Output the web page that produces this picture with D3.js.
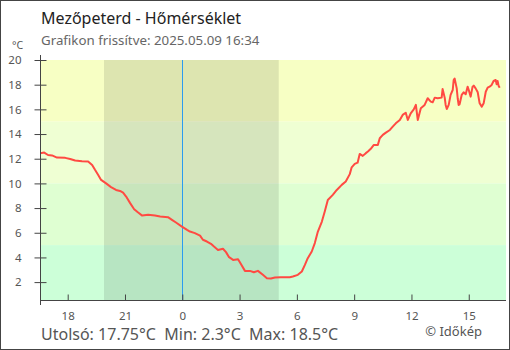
<!DOCTYPE html>
<html>
<head>
<meta charset="utf-8">
<script src="https://cdn.jsdelivr.net/npm/d3@7"></script>
<style>
  html, body { margin: 0; padding: 0; background: #fff; }
  svg { display: block; font-family: "Noto Sans", "Open Sans", sans-serif; }
</style>
</head>
<body>
<svg id="chart" width="510" height="350"></svg>
<script>
// Hours relative to midnight (negative = previous evening)
const hours = [
  -7.44, -7.23, -7.03, -6.82, -6.56, -6.13, -5.87, -5.61, -5.25, -4.93,
  -4.72, -4.57, -4.41, -4.25, -3.99, -3.73, -3.47, -3.26, -3.10, -2.94,
  -2.73, -2.52, -2.31, -2.10, -1.79, -1.43, -1.16, -0.75, -0.54, -0.33,
  -0.02, 0.25, 0.40, 0.66, 0.93, 1.08, 1.29, 1.50, 1.66, 1.87,
  2.13, 2.29, 2.45, 2.66, 2.92, 3.07, 3.28, 3.54, 3.75, 3.96,
  4.22, 4.43, 4.64, 4.85, 5.16, 5.63, 5.79, 6.05, 6.26, 6.42,
  6.57, 6.78, 6.94, 7.10, 7.31, 7.46, 7.62, 7.88, 8.09, 8.35,
  8.56, 8.77, 8.87, 9.03, 9.18, 9.29, 9.45, 9.61, 9.72, 9.87,
  10.03, 10.24, 10.34, 10.50, 10.66, 10.87, 11.02, 11.18, 11.39, 11.54,
  11.70, 11.81, 11.96, 12.12, 12.23, 12.33, 12.49, 12.69, 12.85, 13.01,
  13.11, 13.22, 13.37, 13.58, 13.63, 13.74, 13.79, 13.85, 13.95, 14.05,
  14.16, 14.21, 14.26, 14.37, 14.42, 14.47, 14.52, 14.63, 14.73, 14.84,
  14.94, 15.00, 15.10, 15.20, 15.26, 15.36, 15.47, 15.57, 15.68, 15.78,
  15.89, 15.99, 16.09, 16.20, 16.30, 16.41, 16.46, 16.51, 16.56, 16.62
];
// Temperature, °C
const temps = [
  12.45, 12.5, 12.3, 12.27, 12.09, 12.07, 11.98, 11.85, 11.8, 11.78,
  11.5, 11.1, 10.7, 10.28, 10.0, 9.7, 9.47, 9.39, 9.25, 8.93,
  8.4, 7.91, 7.64, 7.39, 7.45, 7.39, 7.31, 7.26, 7.04, 6.83,
  6.5, 6.23, 6.1, 5.97, 5.77, 5.43, 5.29, 5.1, 4.88, 4.61,
  4.7, 4.43, 4.02, 3.8, 3.86, 3.46, 2.91, 2.91, 2.8, 2.91,
  2.59, 2.32, 2.3, 2.37, 2.4, 2.4, 2.45, 2.59, 2.86, 3.4,
  3.94, 4.48, 5.16, 6.1, 6.91, 7.72, 8.66, 9.07, 9.47, 9.88,
  10.15, 10.75, 11.3, 11.58, 11.68, 12.39, 12.23, 12.45, 12.58, 12.8,
  13.12, 13.12, 13.66, 13.93, 14.11, 14.33, 14.6, 14.87, 15.14, 15.55,
  15.73, 15.14, 15.68, 16.0, 16.36, 15.14, 16.09, 16.36, 16.9, 16.63,
  16.57, 16.95, 16.9, 16.95, 17.65, 16.95, 16.36, 16.03, 16.36, 17.17,
  17.57, 18.38, 18.5, 17.7, 16.9, 16.36, 16.41, 17.17, 17.38, 17.22,
  17.84, 17.57, 17.03, 17.84, 17.92, 17.7, 17.38, 16.49, 16.22, 16.49,
  17.43, 17.76, 17.84, 17.98, 18.3, 18.38, 18.03, 18.3, 17.92, 17.75
];
const xTicks = [-6, -3, 0, 3, 6, 9, 12, 15];
const yTicks = [2, 4, 6, 8, 10, 12, 14, 16, 18, 20];
const bands = [
  { from: 15, to: 20, color: "#f7ffc4" },
  { from: 10, to: 15, color: "#efffd3" },
  { from: 5,  to: 10, color: "#dfffd2" },
  { from: 0,  to: 5,  color: "#ccffd8" }
];
const night = { start: -4.1, end: 5.05 };
const title = "Mezőpeterd - Hőmérséklet";
const subtitle = "Grafikon frissítve: 2025.05.09 16:34";
const summary = "Utolsó: 17.75°C\u00a0\u00a0Min: 2.3°C\u00a0\u00a0Max: 18.5°C";

const W = 510, H = 350;
const m = { left: 40, right: 506, top: 60, bottom: 300 };

const svg = d3.select("#chart");
const x = d3.scaleLinear().domain([-7.45, 16.95]).range([m.left, m.right]);
const y = d3.scaleLinear().domain([0.55, 20]).range([m.bottom, m.top]);

const clipId = "plot-clip";
svg.append("clipPath").attr("id", clipId)
  .append("rect").attr("x", m.left).attr("y", m.top)
  .attr("width", m.right - m.left).attr("height", m.bottom - m.top);

const plot = svg.append("g").attr("clip-path", `url(#${clipId})`);

// temperature bands
plot.selectAll("rect.band").data(bands).join("rect")
  .attr("class", "band")
  .attr("x", m.left).attr("width", m.right - m.left)
  .attr("y", d => y(d.to)).attr("height", d => y(d.from) - y(d.to))
  .attr("fill", d => d.color);

// night shading
plot.append("rect")
  .attr("x", x(night.start)).attr("width", x(night.end) - x(night.start))
  .attr("y", m.top).attr("height", m.bottom - m.top)
  .attr("fill", "rgba(0,0,0,0.1)");

// midnight marker
plot.append("line")
  .attr("x1", Math.round(x(0)) + 0.5).attr("x2", Math.round(x(0)) + 0.5)
  .attr("y1", m.top).attr("y2", m.bottom)
  .attr("stroke", "#2b9bf0").attr("stroke-width", 1);

// temperature line
const pts = hours.map((h, i) => [h, temps[i]]);
plot.append("path").datum(pts)
  .attr("fill", "none").attr("stroke", "#ff4a42").attr("stroke-width", 2)
  .attr("stroke-linejoin", "round")
  .attr("d", d3.line().x(d => x(d[0])).y(d => y(d[1])));

// axes
const axisColor = "#444";
const yAxis = svg.append("g").attr("transform", `translate(${m.left + 0.5},0)`)
  .call(d3.axisLeft(y).tickValues(yTicks).tickSize(6).tickPadding(13));
yAxis.select(".domain").remove();
yAxis.append("line").attr("x1", 0).attr("x2", 0)
  .attr("y1", m.top - 5).attr("y2", m.bottom + 5).attr("stroke", axisColor);
yAxis.selectAll(".tick line").attr("x1", -6).attr("x2", 6).attr("stroke", axisColor);

const xAxis = svg.append("g").attr("transform", `translate(0,${m.bottom + 0.5})`)
  .call(d3.axisBottom(x).tickValues(xTicks).tickSize(-6).tickPadding(11)
    .tickFormat(d => String((d + 24) % 24)));
xAxis.select(".domain").remove();
xAxis.append("line").attr("x1", m.left).attr("x2", m.right)
  .attr("y1", 0).attr("y2", 0).attr("stroke", axisColor);
xAxis.selectAll(".tick line").attr("stroke", axisColor);

svg.selectAll(".tick text")
  .attr("fill", "#555").style("font-size", "11.5px")
  .style("font-family", "\"Noto Sans\", sans-serif");

// unit label
svg.append("text").attr("x", 12).attr("y", 49)
  .attr("fill", "#555").style("font-size", "10.5px").text("°C");

// titles
svg.append("text").attr("x", 41).attr("y", 24)
  .attr("fill", "#222").style("font-size", "16px").text(title);
svg.append("text").attr("x", 41).attr("y", 45)
  .attr("fill", "#666").style("font-size", "13.3px").text(subtitle);

// summary line
svg.append("text").attr("x", 41).attr("y", 340)
  .attr("fill", "#555").style("font-size", "16px").text(summary);
svg.append("text").attr("x", 482).attr("y", 336).attr("text-anchor", "end")
  .attr("fill", "#555").style("font-size", "13px").text("© Időkép");

// frame
svg.append("rect").attr("x", 0.5).attr("y", 0.5)
  .attr("width", W - 1).attr("height", H - 1)
  .attr("fill", "none").attr("stroke", "#444");
</script>
</body>
</html>
